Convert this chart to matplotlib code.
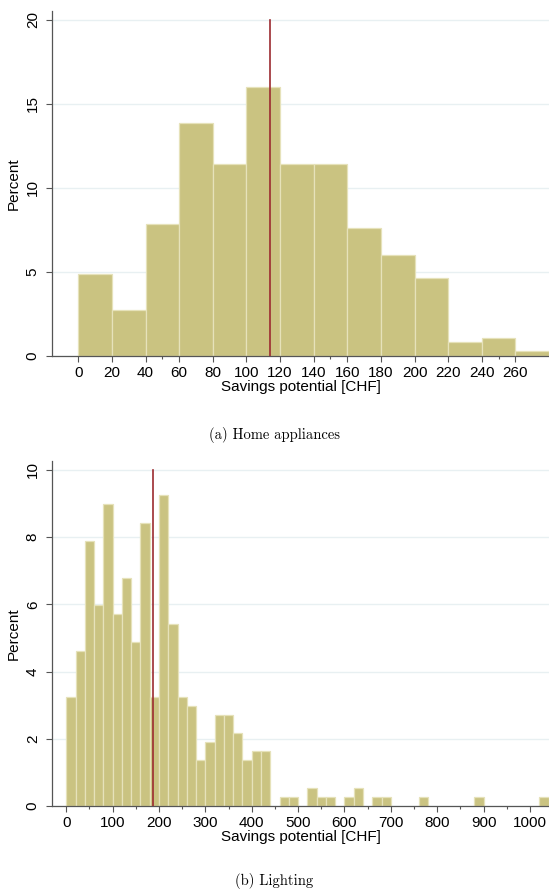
import matplotlib
matplotlib.use("Agg")
import matplotlib.pyplot as plt
from matplotlib.ticker import MultipleLocator


# ----------------------------
# Data (percent per 20 CHF bin)
# ----------------------------
BIN_WIDTH = 20

home_bins = [0, 20, 40, 60, 80, 100, 120, 140, 160, 180, 200, 220, 240, 260]
home_pct = [4.89, 2.72, 7.88, 13.86, 11.41, 16.03, 11.41, 11.41,
            7.61, 5.98, 4.62, 0.82, 1.09, 0.27]
home_line = 114

light_bins = [0, 20, 40, 60, 80, 100, 120, 140, 160, 180, 200, 220, 240,
              260, 280, 300, 320, 340, 360, 380, 400, 420,
              460, 480, 520, 540, 560, 600, 620, 660, 680, 760, 880, 1020]
light_pct = [3.26, 4.62, 7.88, 5.98, 8.97, 5.71, 6.79, 4.89, 8.42, 3.26,
             9.24, 5.43, 3.26, 2.99, 1.36, 1.90, 2.72, 2.72, 2.17, 1.36,
             1.63, 1.63,
             0.27, 0.27, 0.54, 0.27, 0.27, 0.27, 0.54, 0.27, 0.27, 0.27,
             0.27, 0.27]
light_line = 187

home_xticks = [0, 20, 40, 60, 80, 100, 120, 140, 160, 180, 200, 220, 240, 260]
light_xticks = [0, 100, 200, 300, 400, 500, 600, 700, 800, 900, 1000]

XLABEL = "Savings potential [CHF]"
YLABEL = "Percent"

# ----------------------------
# Style
# ----------------------------
BAR = "#cac381"
BAR_EDGE = "#e6e2ba"
RED = "#9c2b30"
GRID = "#e8f0f2"
AXIS = "#555555"

plt.rcParams["font.family"] = ["Liberation Sans", "DejaVu Sans"]

fig = plt.figure(figsize=(5.49, 8.92), dpi=100)


def style_axes(ax, ylim, ystep, xlim, xticks, minor_ticks):
    ax.set_xlim(*xlim)
    ax.set_ylim(*ylim)
    ax.yaxis.set_major_locator(MultipleLocator(ystep))
    ax.set_xticks(xticks)
    ax.set_xticks(minor_ticks, minor=True)
    for s in ["top", "right"]:
        ax.spines[s].set_visible(False)
    for s in ["left", "bottom"]:
        ax.spines[s].set_color(AXIS)
        ax.spines[s].set_linewidth(0.9)
    ax.tick_params(axis="both", which="major", length=4, width=0.8,
                   color=AXIS, labelsize=11, pad=3)
    ax.tick_params(axis="x", which="minor", length=2.5, width=0.8, color=AXIS)
    ax.tick_params(axis="y", which="major", pad=5)
    for lab in ax.get_yticklabels():
        lab.set_rotation(90)
        lab.set_va("center")
    ax.grid(axis="y", color=GRID, linewidth=1.0)
    ax.set_axisbelow(True)
    ax.set_xlabel(XLABEL, fontsize=11, labelpad=0)
    ax.set_ylabel(YLABEL, fontsize=11, labelpad=4)


# (a) home appliances
ax1 = fig.add_axes([0.0953, 0.6009, 0.9047, 0.3873])
ax1.bar(home_bins, home_pct, width=BIN_WIDTH, align="edge",
        color=BAR, edgecolor=BAR_EDGE, linewidth=0.9, zorder=2)
ax1.plot([home_line, home_line], [0, 20], color=RED, lw=1.2, zorder=3)
style_axes(ax1, (0, 20.55), 5, (-15.5, 280), home_xticks, [50, 150, 250])

# (b) lighting
ax2 = fig.add_axes([0.0953, 0.0962, 0.9047, 0.3873])
ax2.bar(light_bins, light_pct, width=BIN_WIDTH, align="edge",
        color=BAR, edgecolor=BAR_EDGE, linewidth=0.9, zorder=2)
ax2.plot([light_line, light_line], [0, 10], color=RED, lw=1.2, zorder=3)
style_axes(ax2, (0, 10.27), 2, (-30, 1041), light_xticks,
           [50, 150, 250, 350, 450, 550, 650, 750, 850, 950])

# captions
fig.text(0.5, 1 - 435 / 892, "(a) Home appliances", ha="center", va="center",
         family="cmr10", fontsize=10.5)
fig.text(0.5, 1 - 881 / 892, "(b) Lighting", ha="center", va="center",
         family="cmr10", fontsize=10.5)

fig.savefig("out.png", dpi=100)
